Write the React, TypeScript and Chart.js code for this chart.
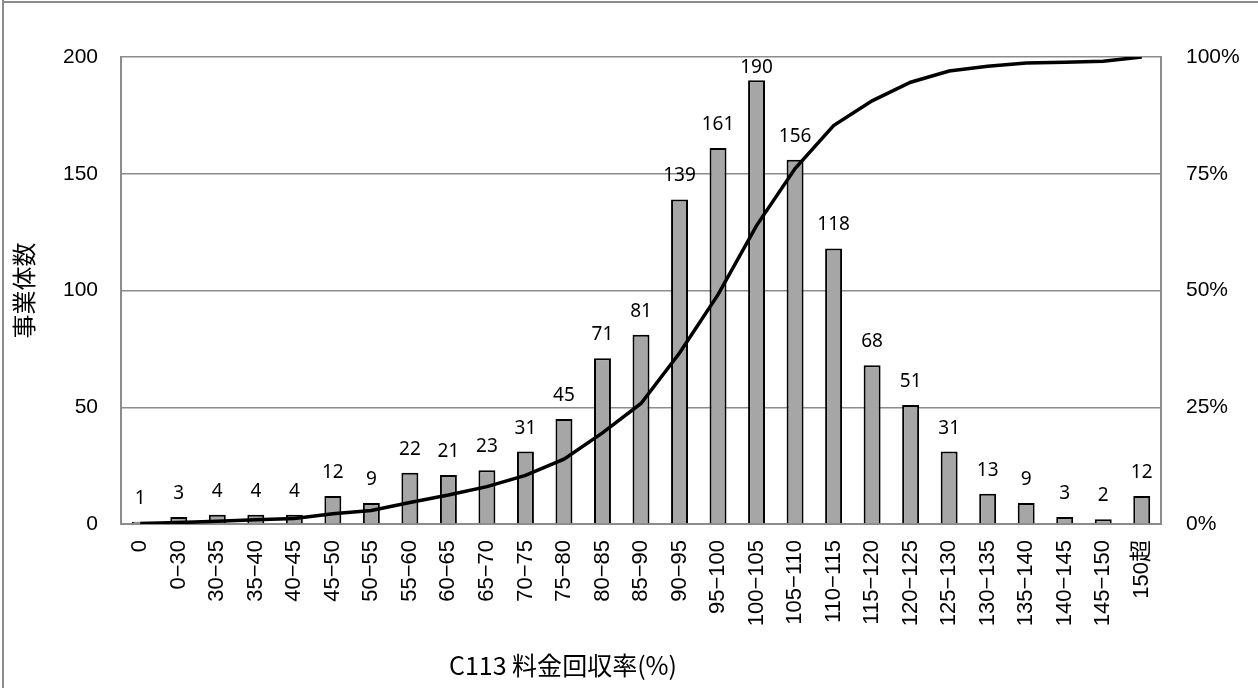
import React, { useEffect, useRef } from "react";
import { Chart, registerables } from "chart.js";

Chart.register(...registerables);

const categories = [
  "0", "0−30", "30−35", "35−40", "40−45", "45−50", "50−55", "55−60", "60−65",
  "65−70", "70−75", "75−80", "80−85", "85−90", "90−95", "95−100", "100−105",
  "105−110", "110−115", "115−120", "120−125", "125−130", "130−135", "135−140",
  "140−145", "145−150", "150超",
];
const counts = [1, 3, 4, 4, 4, 12, 9, 22, 21, 23, 31, 45, 71, 81, 139, 161, 190, 156, 118, 68, 51, 31, 13, 9, 3, 2, 12];
const cumulativePct = [0.1, 0.3, 0.6, 0.9, 1.2, 2.2, 2.9, 4.6, 6.2, 8.0, 10.4, 13.9, 19.5, 25.8, 36.6, 49.1, 63.9, 76.1, 85.3, 90.6, 94.6, 97.0, 98.0, 98.7, 98.9, 99.1, 100];
const leftTicks = [0, 50, 100, 150, 200];
const rightTicks = [0, 25, 50, 75, 100];
const xTitle = "C113 料金回収率(%)";
const yTitle = "事業体数";

const GRID = "#8c8c8c";

export default function App() {
  const ref = useRef<HTMLCanvasElement | null>(null);

  useEffect(() => {
    if (!ref.current) return;

    const decorations = {
      id: "decorations",
      beforeDraw(chart: any) {
        const ctx = chart.ctx;
        ctx.save();
        ctx.fillStyle = "#ffffff";
        ctx.fillRect(0, 0, chart.width, chart.height);
        ctx.fillStyle = GRID;
        ctx.fillRect(2, 0, 2, chart.height);
        ctx.fillRect(2, 1, chart.width, 2);
        ctx.restore();
      },
      afterDatasetsDraw(chart: any) {
        const ctx = chart.ctx;
        const area = chart.chartArea;
        ctx.save();
        const meta = chart.getDatasetMeta(0);
        ctx.fillStyle = "#000";
        ctx.font = "19px 'Noto Sans', 'Open Sans', sans-serif";
        ctx.textAlign = "center";
        ctx.textBaseline = "alphabetic";
        meta.data.forEach((el: any, i: number) => {
          let y = el.y - 18;
          if (y < area.top + 16) y = area.top + 16;
          ctx.fillText(String(counts[i]), el.x, y);
        });
        // x axis title
        ctx.font = "25px 'Noto Sans CJK JP', sans-serif";
        ctx.textBaseline = "middle";
        ctx.textAlign = "center";
        const cx = area.left + (area.right - area.left) * 0.425;
        ctx.fillText(xTitle, cx, 665);
        ctx.restore();
      },
    };

    const chart = new Chart(ref.current, {
      type: "bar",
      data: {
        labels: categories,
        datasets: [
          {
            type: "bar",
            data: counts,
            backgroundColor: "#a6a6a6",
            borderColor: "#000000",
            borderWidth: 2,
            barPercentage: 0.44,
            categoryPercentage: 1,
            yAxisID: "y",
            order: 1,
          },
          {
            type: "line",
            data: cumulativePct,
            borderColor: "#000000",
            borderWidth: 3.5,
            pointRadius: 0,
            tension: 0,
            fill: false,
            yAxisID: "y1",
            order: 0,
          },
        ],
      } as any,
      options: {
        responsive: false,
        animation: false,
        layout: { padding: { top: 57, left: 0, right: 0, bottom: 0 } },
        plugins: {
          legend: { display: false },
          tooltip: { enabled: false },
        },
        scales: {
          x: {
            offset: true,
            grid: { display: false, drawTicks: false },
            border: { display: true, color: GRID, width: 2 },
            ticks: {
              autoSkip: false,
              maxRotation: 90,
              minRotation: 90,
              padding: 16,
              color: "#000",
              font: { family: "'Liberation Sans', 'Noto Sans CJK JP', sans-serif", size: 22 },
            },
            afterFit(scale: any) {
              scale.height = 688 - 524;
            },
          },
          y: {
            position: "left",
            min: 0,
            max: 200,
            afterBuildTicks(scale: any) {
              scale.ticks = leftTicks.map((v) => ({ value: v }));
            },
            grid: { color: GRID, lineWidth: 1.5, drawTicks: false },
            border: { display: true, color: GRID, width: 2 },
            ticks: {
              padding: 23,
              color: "#000",
              font: { family: "'Liberation Sans', sans-serif", size: 21 },
            },
            title: {
              display: true,
              text: yTitle,
              color: "#000",
              font: { family: "'Noto Sans CJK JP', sans-serif", size: 24 },
              padding: { top: 9, bottom: 0 },
            },
            afterFit(scale: any) {
              scale.width = 121;
            },
          },
          y1: {
            position: "right",
            min: 0,
            max: 100,
            afterBuildTicks(scale: any) {
              scale.ticks = rightTicks.map((v) => ({ value: v }));
            },
            grid: { display: false, drawTicks: false },
            border: { display: true, color: GRID, width: 2 },
            ticks: {
              padding: 25,
              color: "#000",
              font: { family: "'Liberation Sans', sans-serif", size: 21 },
              callback: (v: any) => `${v}%`,
            },
            afterFit(scale: any) {
              scale.width = 1258 - 1161;
            },
          },
        },
      } as any,
      plugins: [decorations],
    });

    return () => chart.destroy();
  }, []);

  return (
    <div style={{ position: "absolute", left: 0, top: 0, width: 1258, height: 688 }}>
      <canvas ref={ref} width={1258} height={688} style={{ display: "block", width: 1258, height: 688 }} />
    </div>
  );
}
